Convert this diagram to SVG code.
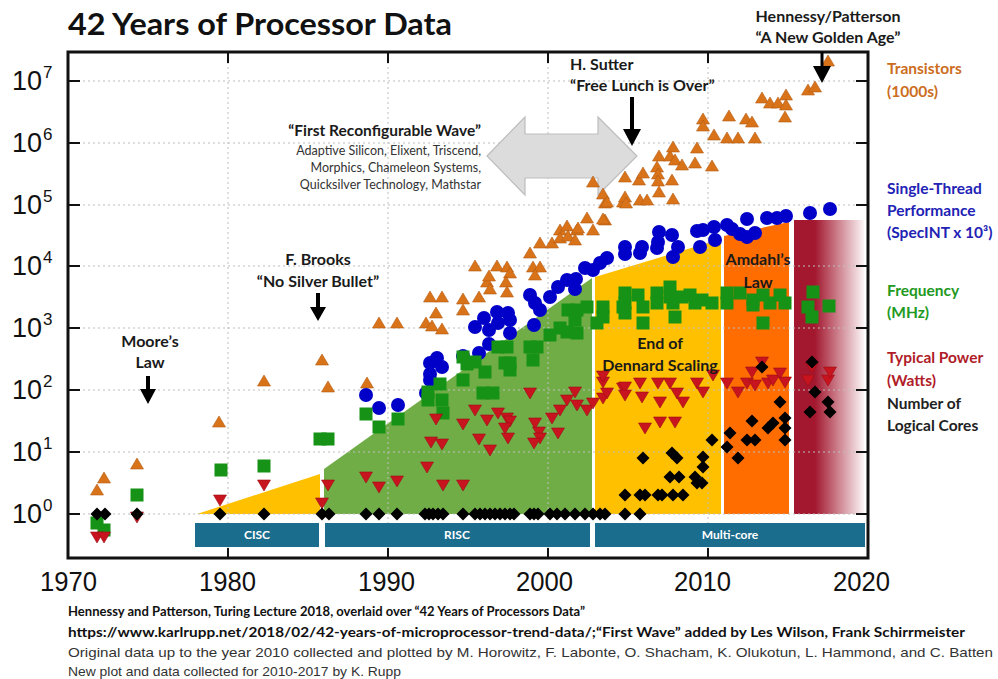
<svg xmlns="http://www.w3.org/2000/svg" width="998" height="679" viewBox="0 0 998 679">
<style>
.ttl{font-family:Lato,"Open Sans",sans-serif;font-weight:700;font-size:30px;fill:#111}
.ann{font-family:Lato,"Open Sans",sans-serif;font-weight:700;font-size:16px;fill:#1a1a1a}
.sub{font-family:Lato,"Open Sans",sans-serif;font-size:12.5px;fill:#333}
.leg{font-family:Lato,"Open Sans",sans-serif;font-weight:700;font-size:15.5px}
.ax{font-family:"Liberation Sans",Arial,sans-serif;font-size:27px;fill:#111}
.axe{font-family:"Liberation Sans",Arial,sans-serif;font-size:17px;fill:#111}
.xl{font-family:"Liberation Sans",Arial,sans-serif;font-size:28px;fill:#111}
.bar{fill:#1b6d8e}
.bt{font-family:Lato,"Open Sans",sans-serif;font-weight:700;font-size:12px;fill:#fff;text-anchor:middle}
.grid{stroke:#bdbdbd;stroke-width:1;stroke-dasharray:2 3;fill:none}
.tick{stroke:#111;stroke-width:2;fill:none}
.ft{font-family:Lato,"Open Sans",sans-serif;font-weight:700;font-size:14px;fill:#111}
.fr{font-family:"Liberation Sans",Arial,sans-serif;font-size:13.5px;fill:#333}
</style>
<defs>
<linearGradient id="redfade" x1="0" y1="0" x2="1" y2="0">
<stop offset="0" stop-color="#a3182f"/>
<stop offset="0.3" stop-color="#a3182f"/>
<stop offset="1" stop-color="#a3182f" stop-opacity="0.04"/>
</linearGradient>
<path id="tu" d="M0,-6L6.5,5L-6.5,5Z" fill="#d8731a" stroke="#b65c12" stroke-width="0.6"/>
<path id="td" d="M-6.5,-5L6.5,-5L0,6Z" fill="#c8141e" stroke="#9c0e16" stroke-width="0.6"/>
<circle id="ci" r="7" fill="#0000c8"/>
<rect id="sq" x="-6.5" y="-6.5" width="13" height="13" fill="#169216"/>
<path id="di" d="M0,-6.5L6.5,0L0,6.5L-6.5,0Z" fill="#000"/>
</defs>
<rect width="998" height="679" fill="#fff"/>
<text class="ttl" x="68" y="35" textLength="384" lengthAdjust="spacingAndGlyphs">42 Years of Processor Data</text>

<g id="regions">
<polygon points="197,514 320,474 320,514" fill="#ffc000"/>
<polygon points="324,514 324,469 592,278 592,514" fill="#70ad47"/>
<polygon points="595,514 595,277 721,239 721,514" fill="#ffc000"/>
<polygon points="724,514 724,236 789,222 789,514" fill="#ff6d00"/>
<rect x="794" y="220" width="70" height="294" fill="url(#redfade)"/>
</g>

<g id="grid">
<path class="grid" d="M68,514H868M68,452H868M68,390H868M68,328H868M68,266H868M68,205H868M68,143H868M68,81H868M228,52V558M388,52V558M548,52V558M708,52V558"/>
</g>

<g id="isa-bars">
<rect class="bar" x="195" y="523" width="124" height="24"/>
<rect class="bar" x="325" y="523" width="265" height="24"/>
<rect class="bar" x="595" y="523" width="270" height="24"/>
<text class="bt" x="257" y="539">CISC</text>
<text class="bt" x="457" y="539">RISC</text>
<text class="bt" x="730" y="539">Multi-core</text>
</g>

<g id="frame">
<rect x="68" y="52" width="800" height="506" fill="none" stroke="#111" stroke-width="3"/>
<path class="tick" d="M68,514h12M68,452h12M68,390h12M68,328h12M68,266h12M68,205h12M68,143h12M68,81h12M868,514h-12M868,452h-12M868,390h-12M868,328h-12M868,266h-12M868,205h-12M868,143h-12M868,81h-12M228,52v11M388,52v11M548,52v11M708,52v11M228,558v-10M388,558v-10M548,558v-10M708,558v-10"/>
</g>

<g id="axis-y">
<text class="ax" x="12" y="523">10</text><text class="axe" x="43" y="511">0</text>
<text class="ax" x="12" y="461">10</text><text class="axe" x="43" y="449">1</text>
<text class="ax" x="12" y="399">10</text><text class="axe" x="43" y="387">2</text>
<text class="ax" x="12" y="337">10</text><text class="axe" x="43" y="325">3</text>
<text class="ax" x="12" y="275">10</text><text class="axe" x="43" y="263">4</text>
<text class="ax" x="12" y="214">10</text><text class="axe" x="43" y="202">5</text>
<text class="ax" x="12" y="152">10</text><text class="axe" x="43" y="140">6</text>
<text class="ax" x="12" y="90">10</text><text class="axe" x="43" y="78">7</text>
</g>
<g id="axis-x">
<text class="xl" x="40" y="591" textLength="57" lengthAdjust="spacingAndGlyphs">1970</text>
<text class="xl" x="199" y="591" textLength="57" lengthAdjust="spacingAndGlyphs">1980</text>
<text class="xl" x="358" y="591" textLength="57" lengthAdjust="spacingAndGlyphs">1990</text>
<text class="xl" x="516" y="591" textLength="57" lengthAdjust="spacingAndGlyphs">2000</text>
<text class="xl" x="674" y="591" textLength="57" lengthAdjust="spacingAndGlyphs">2010</text>
<text class="xl" x="833" y="591" textLength="57" lengthAdjust="spacingAndGlyphs">2020</text>
</g>

<g id="wave-arrow">
<polygon points="487,156 525,117 525,134 598,134 598,117 637,156 598,195 598,178 525,178 525,195" fill="#dcdcdc" stroke="#bdbdbd" stroke-width="1.2"/>
</g>

<g id="transistors">
<use href="#tu" x="97" y="490"/><use href="#tu" x="104" y="478"/><use href="#tu" x="137" y="464"/><use href="#tu" x="219" y="422"/><use href="#tu" x="264" y="381"/><use href="#tu" x="322" y="360"/><use href="#tu" x="328" y="387"/>
<use href="#tu" x="367" y="383"/><use href="#tu" x="379" y="323"/><use href="#tu" x="397" y="323"/><use href="#tu" x="426" y="323"/><use href="#tu" x="432" y="326"/><use href="#tu" x="436" y="313"/><use href="#tu" x="430" y="297"/><use href="#tu" x="442" y="297"/><use href="#tu" x="442" y="329"/>
<use href="#tu" x="463" y="299"/><use href="#tu" x="463" y="310"/><use href="#tu" x="475" y="266"/><use href="#tu" x="479" y="297"/><use href="#tu" x="487" y="282"/><use href="#tu" x="490" y="289"/><use href="#tu" x="489" y="276"/><use href="#tu" x="497" y="266"/><use href="#tu" x="507" y="267"/><use href="#tu" x="510" y="273"/><use href="#tu" x="506" y="282"/><use href="#tu" x="507" y="292"/>
<use href="#tu" x="530" y="253"/><use href="#tu" x="533" y="267"/><use href="#tu" x="540" y="267"/><use href="#tu" x="535" y="275"/><use href="#tu" x="540" y="243"/><use href="#tu" x="552" y="243"/><use href="#tu" x="560" y="230"/><use href="#tu" x="567" y="226"/><use href="#tu" x="560" y="238"/><use href="#tu" x="568" y="236"/><use href="#tu" x="577" y="230"/><use href="#tu" x="575" y="240"/><use href="#tu" x="587" y="218"/><use href="#tu" x="593" y="230"/><use href="#tu" x="605" y="220"/><use href="#tu" x="605" y="203"/><use href="#tu" x="623" y="202"/><use href="#tu" x="578" y="228"/><use href="#tu" x="603" y="219"/>
<use href="#tu" x="593" y="182"/><use href="#tu" x="603" y="194"/><use href="#tu" x="607" y="202"/><use href="#tu" x="625" y="177"/><use href="#tu" x="625" y="197"/><use href="#tu" x="626" y="203"/><use href="#tu" x="639" y="180"/><use href="#tu" x="640" y="200"/><use href="#tu" x="647" y="200"/><use href="#tu" x="643" y="173"/><use href="#tu" x="657" y="167"/><use href="#tu" x="658" y="174"/><use href="#tu" x="658" y="181"/><use href="#tu" x="672" y="180"/><use href="#tu" x="659" y="192"/><use href="#tu" x="673" y="199"/><use href="#tu" x="659" y="156"/><use href="#tu" x="670" y="156"/><use href="#tu" x="675" y="160"/><use href="#tu" x="682" y="165"/><use href="#tu" x="695" y="163"/><use href="#tu" x="712" y="166"/><use href="#tu" x="673" y="147"/><use href="#tu" x="697" y="148"/>
<use href="#tu" x="703" y="119"/><use href="#tu" x="703" y="126"/><use href="#tu" x="729" y="116"/><use href="#tu" x="746" y="119"/><use href="#tu" x="752" y="122"/><use href="#tu" x="714" y="135"/><use href="#tu" x="727" y="138"/><use href="#tu" x="738" y="138"/><use href="#tu" x="755" y="138"/><use href="#tu" x="762" y="98"/><use href="#tu" x="770" y="103"/><use href="#tu" x="778" y="103"/><use href="#tu" x="786" y="95"/><use href="#tu" x="786" y="105"/><use href="#tu" x="785" y="117"/><use href="#tu" x="808" y="90"/><use href="#tu" x="815" y="87"/><use href="#tu" x="828" y="61"/>
</g>

<g id="performance">
<use href="#ci" x="366" y="395"/><use href="#ci" x="379" y="408"/><use href="#ci" x="398" y="405"/><use href="#ci" x="426" y="393"/><use href="#ci" x="430" y="380"/><use href="#ci" x="430" y="363"/><use href="#ci" x="437" y="358"/><use href="#ci" x="442" y="367"/><use href="#ci" x="430" y="374"/>
<use href="#ci" x="463" y="356"/><use href="#ci" x="479" y="353"/><use href="#ci" x="489" y="344"/><use href="#ci" x="475" y="327"/><use href="#ci" x="484" y="318"/><use href="#ci" x="489" y="330"/><use href="#ci" x="497" y="312"/><use href="#ci" x="508" y="313"/><use href="#ci" x="510" y="320"/><use href="#ci" x="510" y="333"/><use href="#ci" x="498" y="323"/>
<use href="#ci" x="530" y="295"/><use href="#ci" x="535" y="303"/><use href="#ci" x="540" y="310"/><use href="#ci" x="534" y="325"/><use href="#ci" x="550" y="297"/><use href="#ci" x="558" y="287"/><use href="#ci" x="567" y="280"/><use href="#ci" x="576" y="279"/><use href="#ci" x="575" y="289"/><use href="#ci" x="585" y="268"/><use href="#ci" x="593" y="270"/><use href="#ci" x="600" y="263"/><use href="#ci" x="607" y="258"/>
<use href="#ci" x="625" y="247"/><use href="#ci" x="625" y="254"/><use href="#ci" x="642" y="247"/><use href="#ci" x="640" y="253"/><use href="#ci" x="659" y="232"/><use href="#ci" x="658" y="242"/><use href="#ci" x="657" y="248"/><use href="#ci" x="672" y="235"/><use href="#ci" x="678" y="247"/><use href="#ci" x="673" y="257"/><use href="#ci" x="697" y="231"/><use href="#ci" x="703" y="230"/><use href="#ci" x="714" y="227"/><use href="#ci" x="700" y="247"/><use href="#ci" x="715" y="240"/><use href="#ci" x="727" y="225"/><use href="#ci" x="732" y="229"/><use href="#ci" x="740" y="234"/><use href="#ci" x="747" y="237"/><use href="#ci" x="755" y="233"/><use href="#ci" x="747" y="219"/><use href="#ci" x="767" y="218"/><use href="#ci" x="777" y="218"/><use href="#ci" x="786" y="216"/><use href="#ci" x="810" y="213"/><use href="#ci" x="830" y="209"/>
</g>

<g id="frequency">
<use href="#sq" x="97" y="523"/><use href="#sq" x="104" y="530"/><use href="#sq" x="137" y="495"/><use href="#sq" x="221" y="470"/><use href="#sq" x="264" y="466"/><use href="#sq" x="320" y="439"/><use href="#sq" x="328" y="439"/>
<use href="#sq" x="366" y="414"/><use href="#sq" x="379" y="427"/><use href="#sq" x="398" y="419"/><use href="#sq" x="428" y="400"/><use href="#sq" x="442" y="400"/><use href="#sq" x="443" y="413"/><use href="#sq" x="428" y="392"/><use href="#sq" x="440" y="384"/><use href="#sq" x="463" y="380"/><use href="#sq" x="483" y="393"/><use href="#sq" x="493" y="393"/>
<use href="#sq" x="463" y="357"/><use href="#sq" x="467" y="364"/><use href="#sq" x="475" y="362"/><use href="#sq" x="485" y="372"/><use href="#sq" x="498" y="347"/><use href="#sq" x="507" y="347"/><use href="#sq" x="505" y="363"/><use href="#sq" x="510" y="363"/><use href="#sq" x="510" y="370"/><use href="#sq" x="530" y="347"/><use href="#sq" x="537" y="347"/><use href="#sq" x="533" y="360"/><use href="#sq" x="550" y="335"/><use href="#sq" x="560" y="328"/><use href="#sq" x="567" y="332"/><use href="#sq" x="568" y="310"/><use href="#sq" x="577" y="310"/><use href="#sq" x="575" y="320"/><use href="#sq" x="587" y="307"/><use href="#sq" x="577" y="333"/><use href="#sq" x="597" y="323"/>
<use href="#sq" x="603" y="307"/><use href="#sq" x="603" y="317"/><use href="#sq" x="623" y="307"/><use href="#sq" x="625" y="293"/><use href="#sq" x="625" y="303"/><use href="#sq" x="625" y="313"/><use href="#sq" x="638" y="295"/><use href="#sq" x="643" y="307"/><use href="#sq" x="643" y="323"/><use href="#sq" x="657" y="293"/><use href="#sq" x="657" y="303"/><use href="#sq" x="670" y="287"/><use href="#sq" x="670" y="297"/><use href="#sq" x="673" y="303"/><use href="#sq" x="675" y="317"/><use href="#sq" x="682" y="297"/><use href="#sq" x="690" y="295"/><use href="#sq" x="695" y="303"/><use href="#sq" x="702" y="300"/><use href="#sq" x="712" y="303"/>
<use href="#sq" x="727" y="293"/><use href="#sq" x="727" y="303"/><use href="#sq" x="740" y="293"/><use href="#sq" x="753" y="300"/><use href="#sq" x="753" y="305"/><use href="#sq" x="763" y="295"/><use href="#sq" x="770" y="303"/><use href="#sq" x="780" y="295"/><use href="#sq" x="785" y="303"/><use href="#sq" x="763" y="323"/><use href="#sq" x="813" y="292"/><use href="#sq" x="808" y="307"/><use href="#sq" x="812" y="317"/><use href="#sq" x="829" y="306"/>
</g>

<g id="power">
<use href="#td" x="97" y="537"/><use href="#td" x="104" y="537"/><use href="#td" x="137" y="517"/><use href="#td" x="220" y="500"/><use href="#td" x="264" y="485"/><use href="#td" x="322" y="503"/><use href="#td" x="328" y="485"/>
<use href="#td" x="366" y="477"/><use href="#td" x="379" y="487"/><use href="#td" x="397" y="481"/><use href="#td" x="427" y="467"/><use href="#td" x="436" y="419"/><use href="#td" x="431" y="442"/><use href="#td" x="442" y="444"/><use href="#td" x="443" y="485"/><use href="#td" x="463" y="485"/><use href="#td" x="463" y="424"/><use href="#td" x="475" y="410"/><use href="#td" x="479" y="439"/><use href="#td" x="487" y="420"/><use href="#td" x="490" y="450"/><use href="#td" x="498" y="413"/><use href="#td" x="507" y="418"/><use href="#td" x="510" y="421"/><use href="#td" x="505" y="428"/><use href="#td" x="508" y="438"/>
<use href="#td" x="530" y="393"/><use href="#td" x="535" y="423"/><use href="#td" x="539" y="432"/><use href="#td" x="540" y="438"/><use href="#td" x="534" y="443"/><use href="#td" x="552" y="418"/><use href="#td" x="558" y="433"/><use href="#td" x="560" y="410"/><use href="#td" x="567" y="400"/><use href="#td" x="575" y="392"/><use href="#td" x="577" y="405"/><use href="#td" x="587" y="410"/><use href="#td" x="593" y="403"/><use href="#td" x="603" y="398"/><use href="#td" x="607" y="393"/><use href="#td" x="623" y="388"/><use href="#td" x="603" y="382"/>
<use href="#td" x="603" y="376"/><use href="#td" x="625" y="387"/><use href="#td" x="625" y="395"/><use href="#td" x="640" y="383"/><use href="#td" x="642" y="397"/><use href="#td" x="658" y="383"/><use href="#td" x="660" y="402"/><use href="#td" x="670" y="383"/><use href="#td" x="677" y="393"/><use href="#td" x="683" y="402"/><use href="#td" x="697" y="383"/><use href="#td" x="703" y="392"/><use href="#td" x="713" y="375"/><use href="#td" x="645" y="428"/><use href="#td" x="660" y="422"/><use href="#td" x="675" y="422"/>
<use href="#td" x="727" y="383"/><use href="#td" x="738" y="392"/><use href="#td" x="747" y="383"/><use href="#td" x="755" y="385"/><use href="#td" x="768" y="383"/><use href="#td" x="773" y="380"/><use href="#td" x="785" y="382"/><use href="#td" x="752" y="372"/><use href="#td" x="780" y="373"/><use href="#td" x="762" y="362"/><use href="#td" x="808" y="380"/><use href="#td" x="828" y="380"/><use href="#td" x="830" y="372"/><use href="#td" x="812" y="367"/>
</g>

<g id="cores">
<use href="#di" x="97" y="514"/><use href="#di" x="105" y="514"/><use href="#di" x="137" y="514"/><use href="#di" x="220" y="514"/><use href="#di" x="264" y="514"/><use href="#di" x="322" y="514"/><use href="#di" x="329" y="514"/>
<use href="#di" x="366" y="514"/><use href="#di" x="379" y="514"/><use href="#di" x="397" y="514"/><use href="#di" x="425" y="514"/><use href="#di" x="429" y="514"/><use href="#di" x="433" y="514"/><use href="#di" x="438" y="514"/><use href="#di" x="443" y="514"/><use href="#di" x="463" y="514"/><use href="#di" x="475" y="514"/><use href="#di" x="480" y="514"/><use href="#di" x="485" y="514"/><use href="#di" x="490" y="514"/><use href="#di" x="495" y="514"/><use href="#di" x="500" y="514"/><use href="#di" x="505" y="514"/><use href="#di" x="510" y="514"/><use href="#di" x="514" y="514"/>
<use href="#di" x="530" y="514"/><use href="#di" x="534" y="514"/><use href="#di" x="538" y="514"/><use href="#di" x="550" y="514"/><use href="#di" x="557" y="514"/><use href="#di" x="565" y="514"/><use href="#di" x="575" y="514"/><use href="#di" x="585" y="514"/><use href="#di" x="593" y="514"/><use href="#di" x="600" y="514"/><use href="#di" x="605" y="514"/><use href="#di" x="625" y="514"/><use href="#di" x="640" y="514"/>
<use href="#di" x="625" y="495"/><use href="#di" x="640" y="495"/><use href="#di" x="645" y="495"/><use href="#di" x="658" y="495"/><use href="#di" x="662" y="495"/><use href="#di" x="673" y="495"/><use href="#di" x="683" y="495"/><use href="#di" x="670" y="477"/><use href="#di" x="679" y="477"/><use href="#di" x="643" y="458"/><use href="#di" x="672" y="453"/><use href="#di" x="677" y="458"/><use href="#di" x="695" y="477"/><use href="#di" x="697" y="483"/><use href="#di" x="702" y="483"/><use href="#di" x="703" y="457"/><use href="#di" x="703" y="467"/><use href="#di" x="712" y="440"/>
<use href="#di" x="727" y="447"/><use href="#di" x="730" y="433"/><use href="#di" x="738" y="458"/><use href="#di" x="747" y="440"/><use href="#di" x="755" y="440"/><use href="#di" x="752" y="421"/><use href="#di" x="768" y="428"/><use href="#di" x="773" y="423"/><use href="#di" x="780" y="402"/><use href="#di" x="785" y="418"/><use href="#di" x="785" y="428"/><use href="#di" x="785" y="440"/><use href="#di" x="762" y="367"/><use href="#di" x="815" y="392"/><use href="#di" x="810" y="412"/><use href="#di" x="828" y="402"/><use href="#di" x="830" y="412"/><use href="#di" x="812" y="362"/>
</g>

<g id="connectors">
<path d="M820.5,52h3v14h-3z M813,66h18l-9,17z" fill="#000"/>
<path d="M630,97h4v32h-4z M623,129h18l-9,17z" fill="#000"/>
<path d="M316,293h4v14h-4z M310,307h16l-8,14z" fill="#000"/>
<path d="M146,376h4v13h-4z M140,389h16l-8,15z" fill="#000"/>
</g>

<g id="annotations">
<text class="ann" x="828" y="22" text-anchor="middle">Hennessy/Patterson</text>
<text class="ann" x="828" y="43" text-anchor="middle">“A New Golden Age”</text>
<text class="ann" x="570" y="70">H. Sutter</text>
<text class="ann" x="570" y="91">“Free Lunch is Over”</text>
<text class="ann" x="481" y="136" text-anchor="end" style="font-size:15.5px">“First Reconfigurable Wave”</text>
<text class="sub" x="481" y="155" text-anchor="end">Adaptive Silicon, Elixent, Triscend,</text>
<text class="sub" x="481" y="172" text-anchor="end">Morphics, Chameleon Systems,</text>
<text class="sub" x="481" y="189" text-anchor="end">Quicksilver Technology, Mathstar</text>
<text class="ann" x="318" y="265" text-anchor="middle">F. Brooks</text>
<text class="ann" x="318" y="287" text-anchor="middle">“No Silver Bullet”</text>
<text class="ann" x="150" y="347" text-anchor="middle">Moore’s</text>
<text class="ann" x="150" y="368" text-anchor="middle">Law</text>
<text class="ann" x="660" y="349" text-anchor="middle">End of</text>
<text class="ann" x="660" y="371" text-anchor="middle">Dennard Scaling</text>
<text class="ann" x="758" y="265" text-anchor="middle">Amdahl’s</text>
<text class="ann" x="758" y="288" text-anchor="middle">Law</text>
</g>

<g id="legend">
<text class="leg" x="887" y="74" fill="#cc6d1e">Transistors</text>
<text class="leg" x="887" y="97" fill="#cc6d1e">(1000s)</text>
<text class="leg" x="887" y="194" fill="#2222b4">Single-Thread</text>
<text class="leg" x="887" y="216" fill="#2222b4">Performance</text>
<text class="leg" x="887" y="238" fill="#2222b4">(SpecINT x 10³)</text>
<text class="leg" x="887" y="296" fill="#229922">Frequency</text>
<text class="leg" x="887" y="318" fill="#229922">(MHz)</text>
<text class="leg" x="887" y="363" fill="#b01c28">Typical Power</text>
<text class="leg" x="887" y="386" fill="#b01c28">(Watts)</text>
<text class="leg" x="887" y="409" fill="#222">Number of</text>
<text class="leg" x="887" y="431" fill="#222">Logical Cores</text>
</g>

<g id="footer">
<text class="ft" x="68" y="616" textLength="517" lengthAdjust="spacingAndGlyphs">Hennessy and Patterson, Turing Lecture 2018, overlaid over “42 Years of Processors Data”</text>
<text class="ft" x="68" y="637" textLength="897" lengthAdjust="spacingAndGlyphs">https://www.karlrupp.net/2018/02/42-years-of-microprocessor-trend-data/;“First Wave” added by Les Wilson, Frank Schirrmeister</text>
<text class="fr" x="68" y="657" textLength="925" lengthAdjust="spacingAndGlyphs">Original data up to the year 2010 collected and plotted by M. Horowitz, F. Labonte, O. Shacham, K. Olukotun, L. Hammond, and C. Batten</text>
<text class="fr" x="68" y="676" textLength="333" lengthAdjust="spacingAndGlyphs">New plot and data collected for 2010-2017 by K. Rupp</text>
</g>
</svg>
